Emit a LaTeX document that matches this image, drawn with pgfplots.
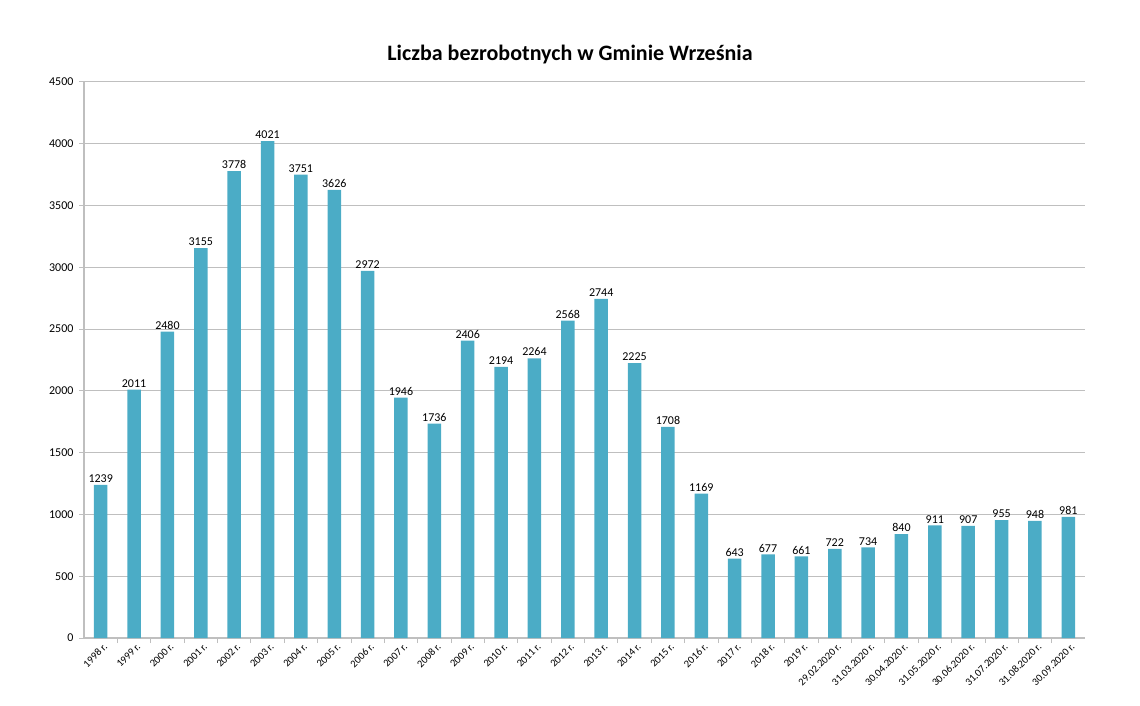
\documentclass[border=0pt]{standalone}
\usepackage{fontspec}
\setmainfont{Carlito}
\usepackage{pgfplots}
\pgfplotsset{compat=1.18}
\definecolor{barteal}{HTML}{4BACC6}
\definecolor{gridgray}{HTML}{BFBFBF}
\begin{document}
\begin{tikzpicture}
\useasboundingbox (0pt,0pt) rectangle (1140pt,705pt);
\node[font=\fontsize{22}{26}\selectfont\bfseries] at (570pt,650pt) {Liczba bezrobotnych w Gminie Września};
\begin{axis}[
  at={(84pt,67pt)}, anchor=south west,
  scale only axis, width=1001pt, height=556pt,
  ymin=0, ymax=4500, ytick={0,500,...,4500},
  yticklabels={0,500,1000,1500,2000,2500,3000,3500,4000,4500},
  xmin=-0.5, xmax=29.5,
  xtick={0,...,29},
  xticklabels={1998 r.,1999 r.,2000 r.,2001 r.,2002 r.,2003 r.,2004 r.,2005 r.,2006 r.,2007 r.,2008 r.,2009 r.,2010 r.,2011 r.,2012 r.,2013 r.,2014 r.,2015 r.,2016 r.,2017 r.,2018 r.,2019 r.,29.02.2020 r.,31.03.2020 r.,30.04.2020 r.,31.05.2020 r.,30.06.2020 r.,31.07.2020 r.,31.08.2020 r.,30.09.2020 r.},
  x tick label style={rotate=45, anchor=north east, font=\fontsize{10.5}{11}\selectfont, inner sep=1pt, xshift=3pt},
  yticklabel style={font=\fontsize{12}{13}\selectfont, xshift=-2pt},
  /pgf/number format/assume math mode=true,
  /pgf/number format/1000 sep={},
  major x tick style={draw=none},
  minor x tick num=1,
  minor x tick style={draw=gridgray, line width=0.8pt},
  tick align=outside,
  minor tick length=5pt,
  ymajorgrids, grid style={gridgray, line width=1pt},
  major y tick style={draw=gridgray, line width=1pt},
  major tick length=5pt,
  axis x line*=bottom, axis y line*=left,
  axis line style={gridgray, line width=1.2pt, -},
  ybar, bar width=13.5pt,
  nodes near coords,
  every node near coord/.append style={font=\fontsize{12}{13}\selectfont, black, /pgf/number format/assume math mode=true, inner sep=2pt},
  clip=false,
]
\addplot[fill=barteal, draw=none] coordinates {
(0,1239) (1,2011) (2,2480) (3,3155) (4,3778) (5,4021) (6,3751) (7,3626) (8,2972) (9,1946)
(10,1736) (11,2406) (12,2194) (13,2264) (14,2568) (15,2744) (16,2225) (17,1708) (18,1169) (19,643)
(20,677) (21,661) (22,722) (23,734) (24,840) (25,911) (26,907) (27,955) (28,948) (29,981)
};
\end{axis}
\end{tikzpicture}
\end{document}
